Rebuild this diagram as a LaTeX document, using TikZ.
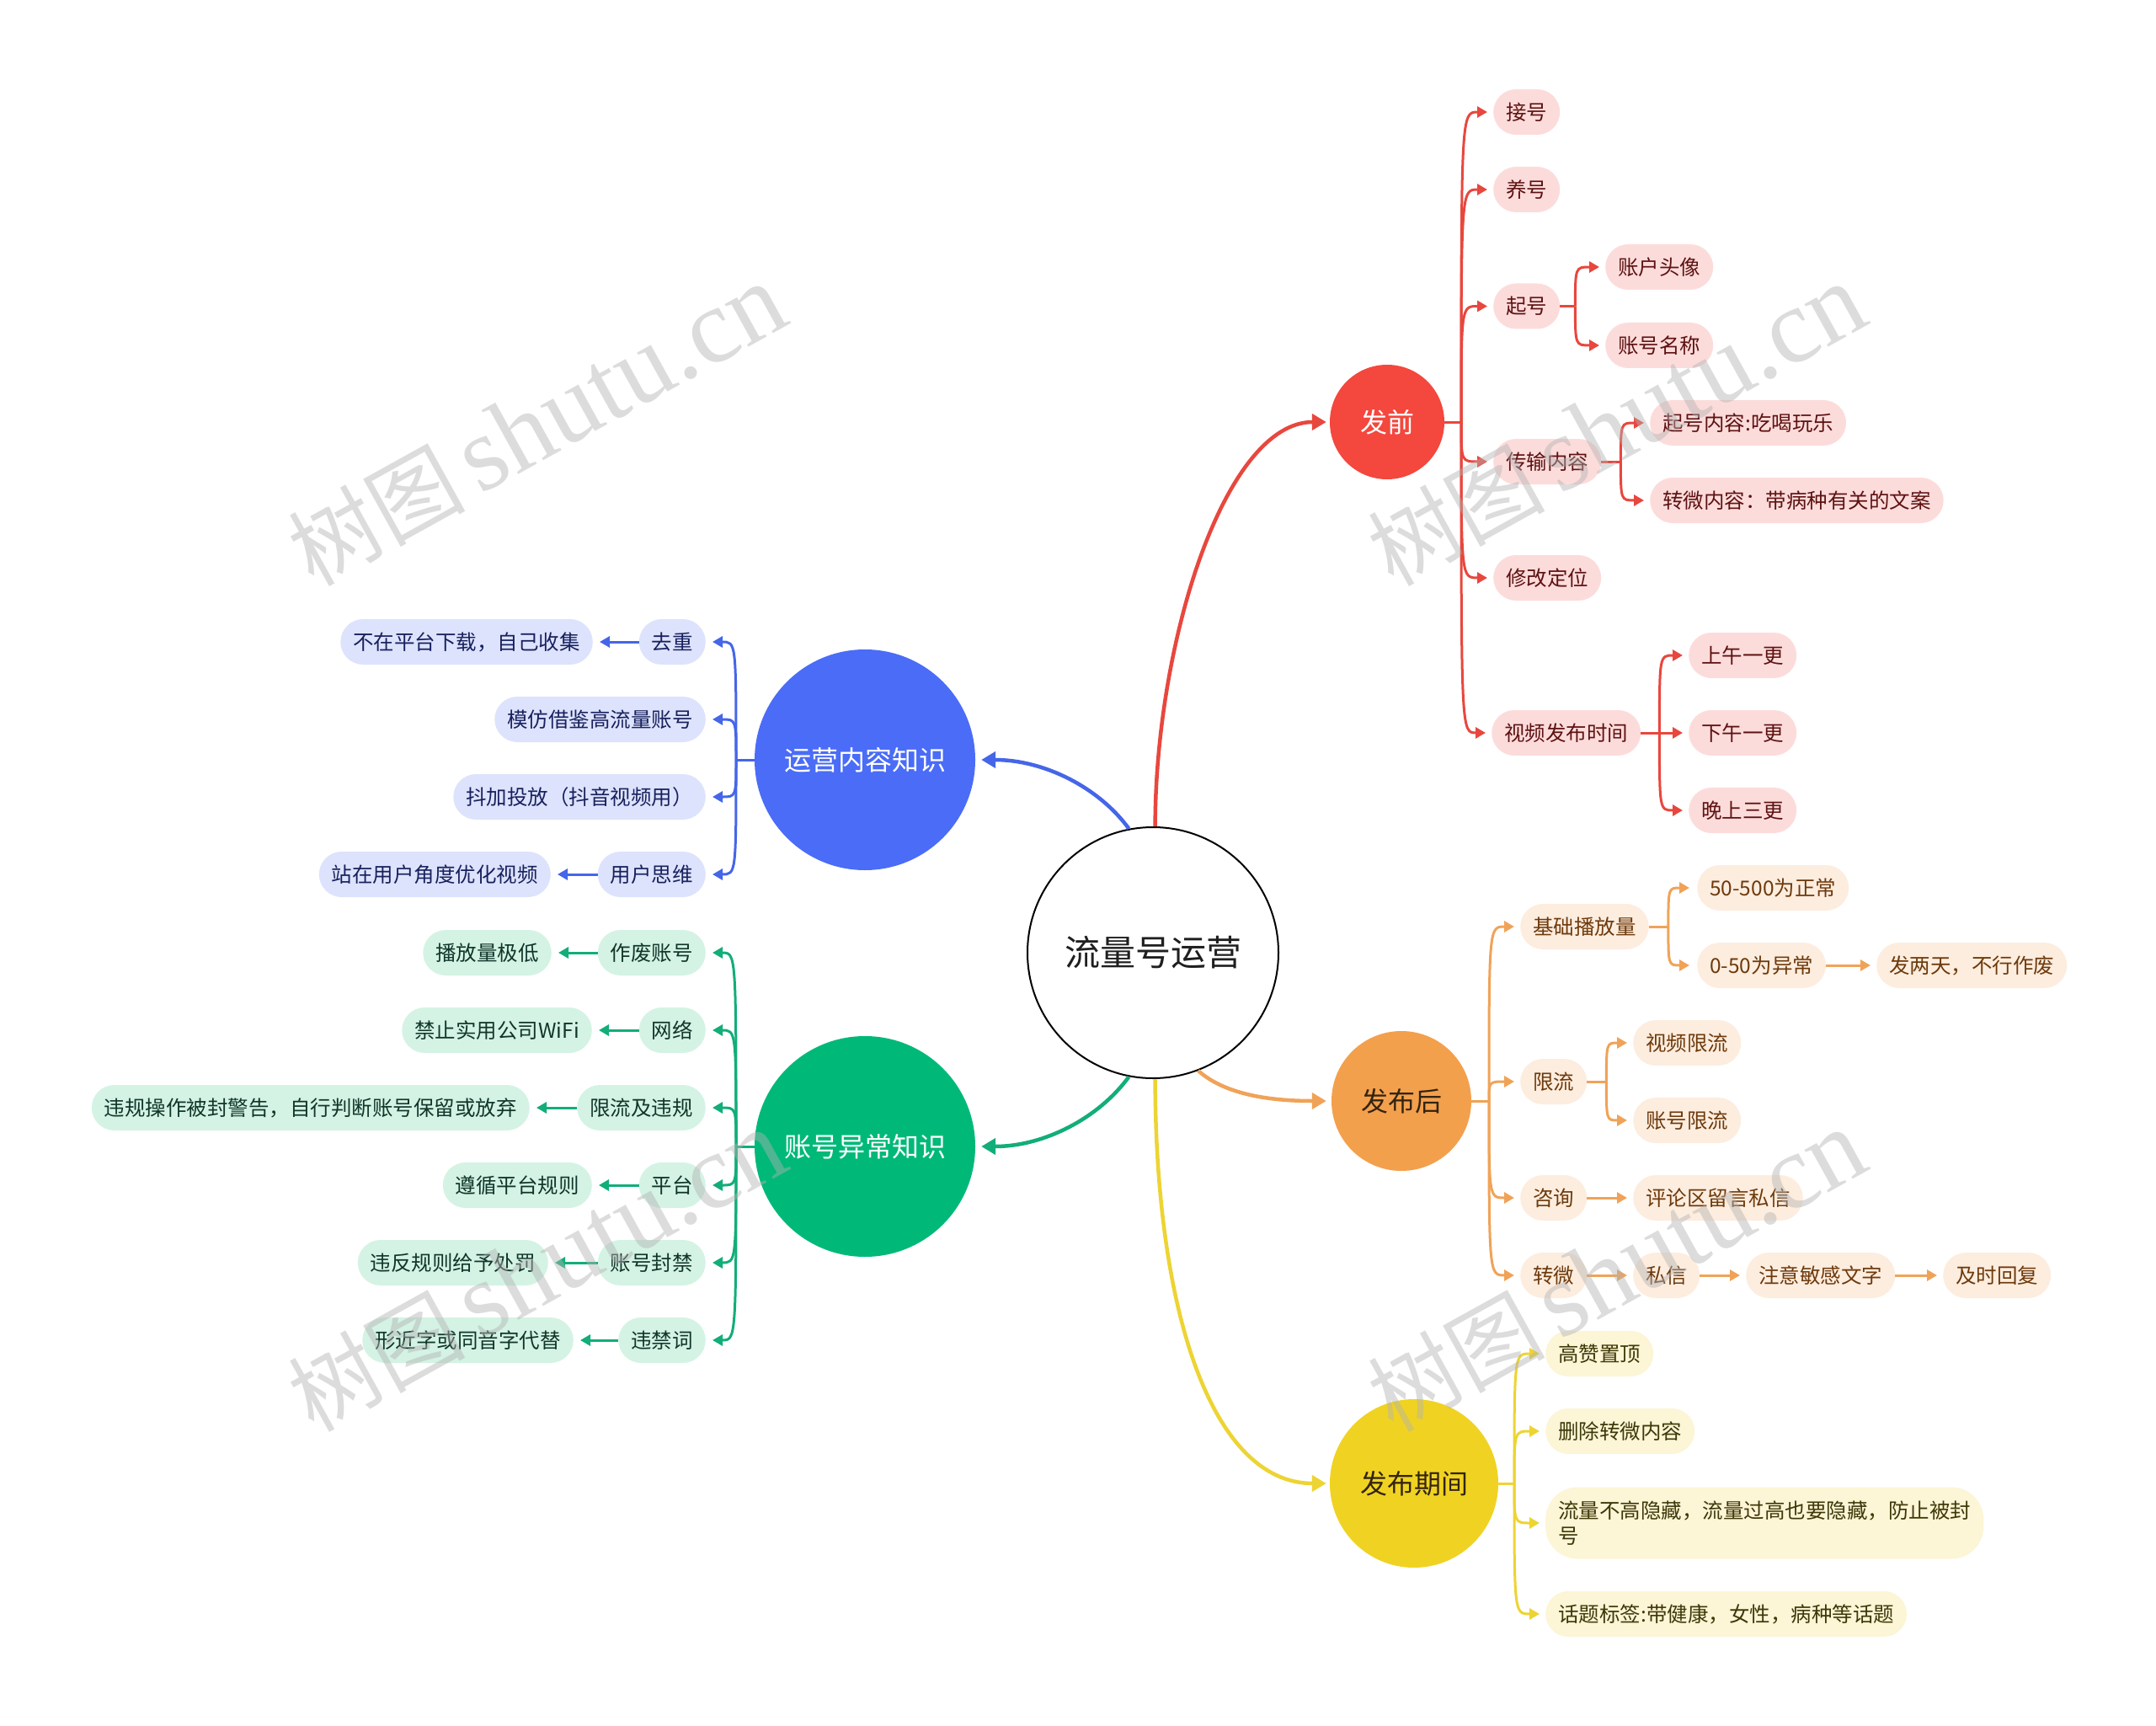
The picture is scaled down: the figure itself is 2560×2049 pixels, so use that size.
\documentclass[tikz,border=0pt]{standalone}
\usepackage{fontspec}
\setmainfont{Noto Sans CJK SC}
\newfontfamily\wmlat{Liberation Serif}
\usetikzlibrary{arrows.meta}
\definecolor{cR}{HTML}{E8473E}
\definecolor{cRc}{HTML}{F4473D}
\definecolor{cRf}{HTML}{FCDCDB}
\definecolor{cRt}{HTML}{5E1212}
\definecolor{cO}{HTML}{F0A358}
\definecolor{cOc}{HTML}{F3A04D}
\definecolor{cOf}{HTML}{FDEDDF}
\definecolor{cOt}{HTML}{6E3A0C}
\definecolor{cOct}{HTML}{33240F}
\definecolor{cY}{HTML}{EDD433}
\definecolor{cYc}{HTML}{F0D322}
\definecolor{cYf}{HTML}{FCF5D6}
\definecolor{cYt}{HTML}{3E3808}
\definecolor{cB}{HTML}{4566E8}
\definecolor{cBc}{HTML}{4A6CF7}
\definecolor{cBf}{HTML}{DDE3FC}
\definecolor{cBt}{HTML}{18215E}
\definecolor{cG}{HTML}{12AE78}
\definecolor{cGc}{HTML}{00B978}
\definecolor{cGf}{HTML}{D4F3E4}
\definecolor{cGt}{HTML}{10362A}
\begin{document}
\begin{tikzpicture}[x=1pt,y=-1pt,
  pill/.style={rectangle, rounded corners=27pt, minimum height=54pt, inner xsep=15pt, inner ysep=0pt, font=\fontsize{24.5}{30}\selectfont},
  rp/.style={pill, fill=cRf, text=cRt},
  op/.style={pill, fill=cOf, text=cOt},
  yp/.style={pill, fill=cYf, text=cYt},
  bp/.style={pill, fill=cBf, text=cBt},
  gp/.style={pill, fill=cGf, text=cGt},
  topic/.style={circle, inner sep=0pt, font=\fontsize{32}{36}\selectfont},
  sub/.style={line width=3pt},
  link/.style={sub, -{Triangle[length=12pt,width=13pt]}, shorten >=7pt},
  mainlink/.style={line width=4.5pt, -{Triangle[length=17pt,width=19pt]}, shorten >=4pt},
  wm/.style={rotate=29, anchor=base west, inner sep=0pt, text=gray!60, opacity=0.45}
]
\useasboundingbox[fill=white] (0,0) rectangle (2560,2049);

% central and topic circles
\node[circle, draw=black, line width=2pt, fill=white, minimum size=298pt, inner sep=0pt, text=black!88, font=\fontsize{42}{46}\selectfont] (c) at (1369,1131) {流量号运营};
\node[topic, fill=cRc, text=white, minimum size=136pt] (fp) at (1647,501) {发前};
\node[topic, fill=cBc, text=white, minimum size=262pt] (bl) at (1027,902) {运营内容知识};
\node[topic, fill=cGc, text=white, minimum size=262pt] (gr) at (1027,1361) {账号异常知识};
\node[topic, fill=cOc, text=cOct, minimum size=166pt] (fh) at (1664,1307) {发布后};
\node[topic, fill=cYc, text=cOct, minimum size=200pt] (fq) at (1679,1761) {发布期间};

% main connectors
\draw[mainlink, color=cR] (c.89) .. controls (1372,760) and (1455,501) .. (fp.west);
\draw[mainlink, color=cB, shorten >=7pt] (c.101) .. controls (1305,935) and (1240,902) .. (bl.east);
\draw[mainlink, color=cG, shorten >=7pt] (c.259) .. controls (1305,1327) and (1240,1361) .. (gr.east);
\draw[mainlink, color=cO, shorten >=6pt] (c.291) .. controls (1455,1300) and (1510,1307) .. (fh.west);
\draw[mainlink, color=cY] (c.271) .. controls (1372,1560) and (1440,1761) .. (fq.west);

% red subtree
\node[rp, anchor=west] (r1) at (1773,133) {接号};
\node[rp, anchor=west] (r2) at (1773,225) {养号};
\node[rp, anchor=west] (r3) at (1773,363.5) {起号};
\node[rp, anchor=west] (r31) at (1906,317) {账户头像};
\node[rp, anchor=west] (r32) at (1906,410) {账号名称};
\node[rp, anchor=west] (r4) at (1773,548) {传输内容};
\node[rp, anchor=west] (r41) at (1959,502) {起号内容:吃喝玩乐};
\node[rp, anchor=west] (r42) at (1959,594) {转微内容：带病种有关的文案};
\node[rp, anchor=west] (r5) at (1773,686) {修改定位};
\node[rp, anchor=west] (r6) at (1771,870) {视频发布时间};
\node[rp, anchor=west] (r61) at (2005,778) {上午一更};
\node[rp, anchor=west] (r62) at (2005,870) {下午一更};
\node[rp, anchor=west] (r63) at (2005,962) {晚上三更};

\draw[sub, color=cR] (fp.east) -- (1735,501) coordinate (fpF);
\foreach \n in {r1,r2,r3,r4,r5,r6}
  \draw[link, color=cR] (fpF) .. controls (fpF |- \n.west) .. (\n.west);
\draw[sub, color=cR] (r3.east) -- ++(18,0) coordinate (r3F);
\foreach \n in {r31,r32}
  \draw[link, color=cR] (r3F) .. controls (r3F |- \n.west) .. (\n.west);
\draw[sub, color=cR] (r4.east) -- ++(23,0) coordinate (r4F);
\foreach \n in {r41,r42}
  \draw[link, color=cR] (r4F) .. controls (r4F |- \n.west) .. (\n.west);
\draw[sub, color=cR] (r6.east) -- ++(22,0) coordinate (r6F);
\foreach \n in {r61,r62,r63}
  \draw[link, color=cR] (r6F) .. controls (r6F |- \n.west) .. (\n.west);

% orange subtree
\node[op, anchor=west] (o1) at (1805,1100) {基础播放量};
\node[op, anchor=west] (o11) at (2015,1054) {50-500为正常};
\node[op, anchor=west] (o12) at (2015,1146) {0-50为异常};
\node[op, anchor=west] (o121) at (2228,1146) {发两天，不行作废};
\node[op, anchor=west] (o2) at (1805,1284) {限流};
\node[op, anchor=west] (o21) at (1939,1238) {视频限流};
\node[op, anchor=west] (o22) at (1939,1330) {账号限流};
\node[op, anchor=west] (o3) at (1805,1422) {咨询};
\node[op, anchor=west] (o31) at (1939,1422) {评论区留言私信};
\node[op, anchor=west] (o4) at (1805,1514) {转微};
\node[op, anchor=west] (o41) at (1939,1514) {私信};
\node[op, anchor=west] (o42) at (2073,1514) {注意敏感文字};
\node[op, anchor=west] (o43) at (2307,1514) {及时回复};

\draw[sub, color=cO] (fh.east) -- (1768,1307) coordinate (fhF);
\foreach \n in {o1,o2,o3,o4}
  \draw[link, color=cO] (fhF) .. controls (fhF |- \n.west) .. (\n.west);
\draw[sub, color=cO] (o1.east) -- ++(23,0) coordinate (o1F);
\foreach \n in {o11,o12}
  \draw[link, color=cO, shorten >=9pt] (o1F) .. controls (o1F |- \n.west) .. (\n.west);
\draw[sub, color=cO] (o2.east) -- ++(23,0) coordinate (o2F);
\foreach \n in {o21,o22}
  \draw[link, color=cO] (o2F) .. controls (o2F |- \n.west) .. (\n.west);
\draw[link, color=cO] (o12.east) -- (o121.west);
\draw[link, color=cO] (o3.east) -- (o31.west);
\draw[link, color=cO] (o4.east) -- (o41.west);
\draw[link, color=cO] (o41.east) -- (o42.west);
\draw[link, color=cO] (o42.east) -- (o43.west);

% yellow subtree
\node[yp, anchor=west] (y1) at (1835,1607) {高赞置顶};
\node[yp, anchor=west] (y2) at (1835,1699) {删除转微内容};
\node[yp, anchor=west, align=left, minimum height=85pt, rounded corners=38pt] (y3) at (1835,1808) {流量不高隐藏，流量过高也要隐藏，防止被封\\号};
\node[yp, anchor=west] (y4) at (1835,1916) {话题标签:带健康，女性，病种等话题};

\draw[sub, color=cY] (fq.east) -- (1798,1761) coordinate (fqF);
\foreach \n in {y1,y2,y3,y4}
  \draw[link, color=cY] (fqF) .. controls (fqF |- \n.west) .. (\n.west);

% blue subtree
\node[bp, anchor=east] (b1) at (838,762) {去重};
\node[bp, anchor=east] (b11) at (704,762) {不在平台下载，自己收集};
\node[bp, anchor=east] (b2) at (838,854) {模仿借鉴高流量账号};
\node[bp, anchor=east] (b3) at (838,946) {抖加投放（抖音视频用）};
\node[bp, anchor=east] (b4) at (838,1038) {用户思维};
\node[bp, anchor=east] (b41) at (654,1038) {站在用户角度优化视频};

\draw[sub, color=cB] (bl.west) -- (874,902) coordinate (blF);
\foreach \n in {b1,b2,b3,b4}
  \draw[link, color=cB, shorten >=8pt] (blF) .. controls (blF |- \n.east) .. (\n.east);
\draw[link, color=cB, shorten >=8pt] (b1.west) -- (b11.east);
\draw[link, color=cB, shorten >=8pt] (b4.west) -- (b41.east);

% green subtree
\node[gp, anchor=east] (g1) at (838,1131) {作废账号};
\node[gp, anchor=east] (g11) at (655,1131) {播放量极低};
\node[gp, anchor=east] (g2) at (838,1223) {网络};
\node[gp, anchor=east] (g21) at (703,1223) {禁止实用公司WiFi};
\node[gp, anchor=east] (g3) at (838,1315) {限流及违规};
\node[gp, anchor=east] (g31) at (629,1315) {违规操作被封警告，自行判断账号保留或放弃};
\node[gp, anchor=east] (g4) at (838,1407) {平台};
\node[gp, anchor=east] (g41) at (703,1407) {遵循平台规则};
\node[gp, anchor=east] (g5) at (838,1499) {账号封禁};
\node[gp, anchor=east] (g51) at (651,1499) {违反规则给予处罚};
\node[gp, anchor=east] (g6) at (838,1591) {违禁词};
\node[gp, anchor=east] (g61) at (681,1591) {形近字或同音字代替};

\draw[sub, color=cG] (gr.west) -- (874,1361) coordinate (grF);
\foreach \n in {g1,g2,g3,g4,g5,g6}
  \draw[link, color=cG, shorten >=8pt] (grF) .. controls (grF |- \n.east) .. (\n.east);
\foreach \a/\b in {g1/g11,g2/g21,g3/g31,g4/g41,g5/g51,g6/g61}
  \draw[link, color=cG, shorten >=8pt] (\a.west) -- (\b.east);

% watermarks
\foreach \i/\x/\y in {1/372/698, 2/1654/698, 3/372/1702, 4/1654/1702}
  \node[wm] (wm\i) at (\x,\y) {{\fontsize{105}{105}\selectfont 树图}\hspace{17pt}{\wmlat\fontsize{126}{126}\selectfont shutu.cn}};
\end{tikzpicture}
\end{document}
